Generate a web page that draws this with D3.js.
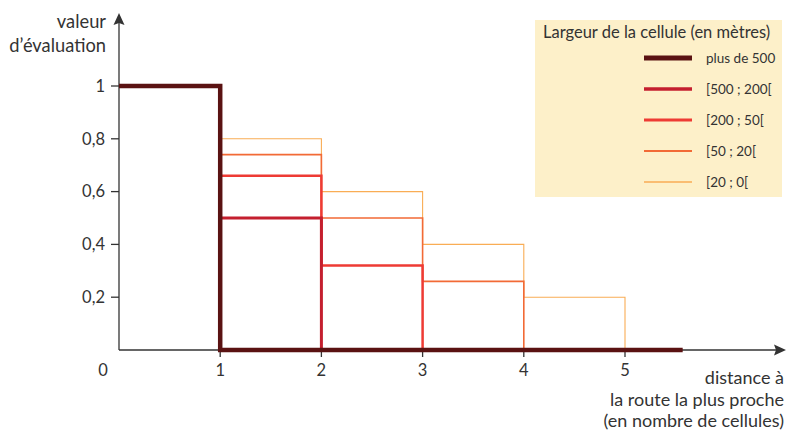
<!DOCTYPE html>
<html><head><meta charset="utf-8">
<script src="https://cdn.jsdelivr.net/npm/d3@7"></script>
<style>body{margin:0;background:#fff}svg{display:block}text{font-family:Lato,"Open Sans",sans-serif;fill:#333}</style>
</head><body><svg id="c" width="788" height="431"></svg>
<script>
// ---- data ----
const seriesNames = ["plus de 500", "[500 ; 200[", "[200 ; 50[", "[50 ; 20[", "[20 ; 0["];
// step values per unit interval of distance (0-1, 1-2, ...), ending with 0
const valuesPlus500 = [1, 0];
const values500to200 = [1, 0.5, 0];
const values200to50 = [1, 0.66, 0.32, 0];
const values50to20 = [1, 0.74, 0.5, 0.26, 0];
const values20to0 = [1, 0.8, 0.6, 0.4, 0.2, 0];
const plus500End = 5.57; // the baseline of the first series runs to here
const xTicks = [0, 1, 2, 3, 4, 5];
const yTicks = [0.2, 0.4, 0.6, 0.8, 1];
const yTickLabels = ["0,2", "0,4", "0,6", "0,8", "1"];
const colors = ["#5a1212", "#c41f2e", "#ee3b34", "#f26a36", "#f9ad55"];
const widths = [4.5, 3, 2.5, 1.6, 1.1];

const svg = d3.select("#c");
const x = d3.scaleLinear().domain([0, 5]).range([119, 625]);
const y = d3.scaleLinear().domain([0, 1]).range([350, 86]);
const axisColor = "#333";

// axes lines with arrows
svg.append("line").attr("x1", x(0)).attr("x2", 776).attr("y1", y(0)).attr("y2", y(0))
  .attr("stroke", axisColor).attr("stroke-width", 1.3);
svg.append("path").attr("d", `M786,${y(0)} L774,${y(0)-5.5} L776,${y(0)} L774,${y(0)+5.5} Z`).attr("fill", axisColor);
svg.append("line").attr("x1", x(0)).attr("x2", x(0)).attr("y1", y(0)).attr("y2", 22)
  .attr("stroke", axisColor).attr("stroke-width", 1.3);
svg.append("path").attr("d", `M${x(0)},13 L${x(0)-5.5},25 L${x(0)},23 L${x(0)+5.5},25 Z`).attr("fill", axisColor);

// y ticks
const yg = svg.append("g");
yTicks.forEach((t, i) => {
  yg.append("line").attr("x1", x(0) - 8).attr("x2", x(0)).attr("y1", y(t)).attr("y2", y(t)).attr("stroke", axisColor).attr("stroke-width", 1.3);
  yg.append("text").attr("x", x(0) - 14).attr("y", y(t)).attr("dy", "0.35em").attr("text-anchor", "end")
    .attr("font-size", 16.5).text(yTickLabels[i]);
});
// x ticks
xTicks.forEach(t => {
  if (t > 0) svg.append("line").attr("x1", x(t)).attr("x2", x(t)).attr("y1", y(0)).attr("y2", y(0) + 7).attr("stroke", axisColor).attr("stroke-width", 1.3);
  svg.append("text").attr("x", t === 0 ? x(0) - 16 : x(t)).attr("y", 376).attr("text-anchor", "middle")
    .attr("font-size", 16.5).text(t);
});

// axis titles
svg.append("text").attr("x", 106).attr("y", 28).attr("text-anchor", "end").attr("font-size", 18.3).text("valeur");
svg.append("text").attr("x", 106).attr("y", 52).attr("text-anchor", "end").attr("font-size", 18.3).text("d’évaluation");
[["distance à", 384], ["la route la plus proche", 406], ["(en nombre de cellules)", 427]].forEach(([t, yy]) =>
  svg.append("text").attr("x", 784).attr("y", yy).attr("text-anchor", "end").attr("font-size", 18).text(t));

// series
const allValues = [valuesPlus500, values500to200, values200to50, values50to20, values20to0];
const line = d3.line().x(d => x(d[0])).y(d => y(d[1])).curve(d3.curveStepAfter);
const seriesData = allValues.map((vals, i) => {
  const pts = vals.map((v, k) => [k, v]);
  if (i === 0) pts.push([plus500End, 0]);
  return pts;
});
for (let i = seriesData.length - 1; i >= 0; i--) {
  svg.append("path").attr("d", line(seriesData[i])).attr("fill", "none")
    .attr("stroke", colors[i]).attr("stroke-width", widths[i]).attr("stroke-linejoin", "miter").attr("stroke-linecap", "butt");
}

// legend
const lg = svg.append("g");
lg.append("rect").attr("x", 535).attr("y", 20).attr("width", 247).attr("height", 177).attr("fill", "#fdf0c9");
lg.append("text").attr("x", 543).attr("y", 38).attr("font-size", 16.5).text("Largeur de la cellule (en mètres)");
seriesNames.forEach((n, i) => {
  const yy = 58 + i * 31;
  lg.append("line").attr("x1", 644).attr("x2", 692).attr("y1", yy).attr("y2", yy).attr("stroke", colors[i]).attr("stroke-width", widths[i] + (i === 0 ? 0.5 : 0.3));
  lg.append("text").attr("x", 706).attr("y", yy).attr("dy", "0.35em").attr("font-size", 13.5).text(n);
});
</script></body></html>
